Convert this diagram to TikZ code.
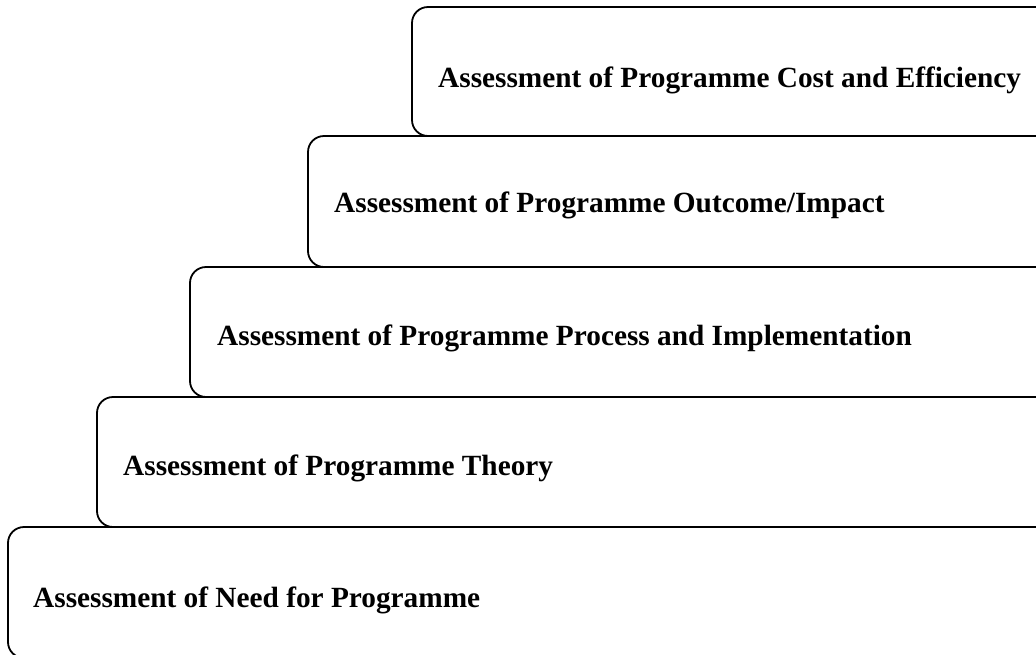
\documentclass[tikz,border=0pt]{standalone}
\usepackage{fontspec}
\setmainfont{Liberation Serif}

\begin{document}
\begin{tikzpicture}[x=1pt, y=-1pt,
  stage/.style={draw=black, line width=1.8pt, rounded corners=16pt},
  stagelabel/.style={anchor=base west, inner sep=0pt,
    font=\fontsize{29.3}{34}\selectfont\bfseries}]
\useasboundingbox (0,0) rectangle (1036,654);
\clip (0,0) rectangle (1036,654);

% Steps, open to the right
\foreach \l/\t/\b in {412/7/136, 308/136/267, 190/267/397, 97/397/527, 8/527/658}
  \draw[stage] (\l,\t) rectangle (1070,\b);

% Step labels, top to bottom
\node[stagelabel] (cost)    at (438,87)  {Assessment of Programme Cost and Efficiency};
\node[stagelabel] (outcome) at (334,212) {Assessment of Programme Outcome/Impact};
\node[stagelabel] (process) at (217,345) {Assessment of Programme Process and Implementation};
\node[stagelabel] (theory)  at (123,475) {Assessment of Programme Theory};
\node[stagelabel] (need)    at (33,607)  {Assessment of Need for Programme};
\end{tikzpicture}
\end{document}
